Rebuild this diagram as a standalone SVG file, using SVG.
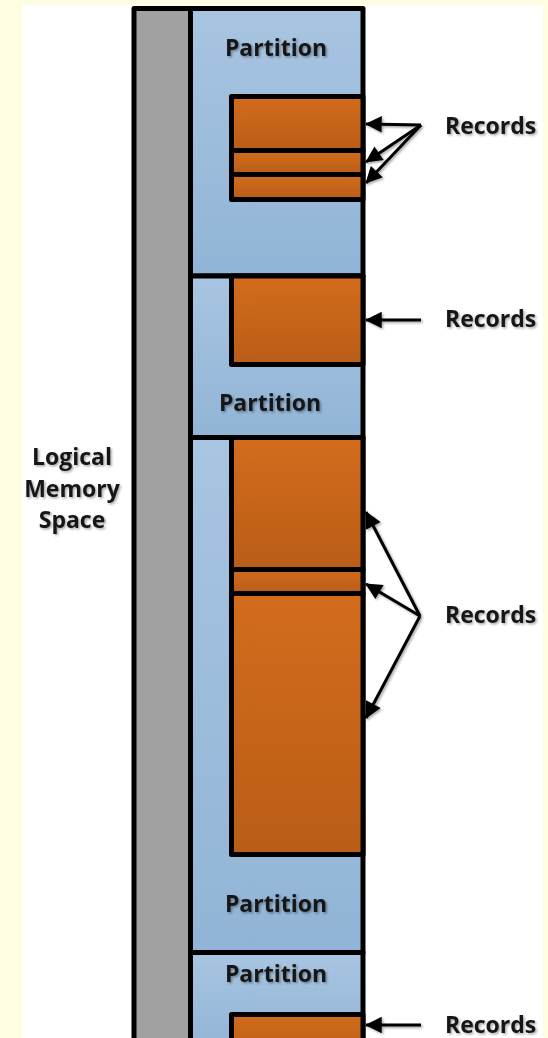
<svg xmlns="http://www.w3.org/2000/svg" width="548" height="1038" viewBox="0 0 548 1038">
  <style>
    .part { stroke: #000; stroke-width: 5; stroke-linejoin: round; }
    .rec { fill: url(#orange); stroke: #000; stroke-width: 5; stroke-linejoin: round; }
    .lbl { font-family: "Open Sans", "Liberation Sans", sans-serif; font-weight: bold; font-size: 23px; fill: #161616; filter: url(#soft); }
    .conn { stroke: #000; stroke-width: 3; fill: none; marker-end: url(#head); }
  </style>
  <defs>
    <linearGradient id="blue" x1="0" y1="0" x2="0" y2="1">
      <stop offset="0" stop-color="#a8c5e1"/>
      <stop offset="1" stop-color="#91b4d6"/>
    </linearGradient>
    <linearGradient id="orange" x1="0" y1="0" x2="0" y2="1">
      <stop offset="0" stop-color="#d36c1c"/>
      <stop offset="1" stop-color="#b95d17"/>
    </linearGradient>
    <filter id="soft" x="-20%" y="-40%" width="140%" height="180%">
      <feDropShadow dx="1.5" dy="1.5" stdDeviation="1.2" flood-color="#000" flood-opacity="0.35"/>
    </filter>
    <marker id="head" viewBox="0 0 10 10" refX="9.5" refY="5" markerWidth="6.5" markerHeight="5.5" orient="auto" markerUnits="strokeWidth">
      <path d="M0,0 L10,5 L0,10 Z" fill="#000"/>
    </marker>
  </defs>

  <!-- page -->
  <rect x="0" y="0" width="548" height="1038" fill="#fffde1"/>
  <rect x="22" y="5" width="521" height="1040" fill="#fff"/>

  <!-- address column -->
  <g id="memory-space">
    <rect x="134" y="8.5" width="56.5" height="1040" fill="#a1a1a1" stroke="#000" stroke-width="5" stroke-linejoin="round"/>
    <text class="lbl" x="72" y="465" text-anchor="middle">Logical</text>
    <text class="lbl" x="72" y="497" text-anchor="middle">Memory</text>
    <text class="lbl" x="72" y="528" text-anchor="middle">Space</text>
  </g>

  <!-- partitions -->
  <g id="partition-1">
    <rect class="part" x="190.5" y="8.5" width="172.5" height="267.5" fill="url(#blue)"/>
    <g id="records-1">
      <rect class="rec" x="231.5" y="96.5" width="131.5" height="54"/>
      <rect class="rec" x="231.5" y="150.5" width="131.5" height="24"/>
      <rect class="rec" x="231.5" y="174.5" width="131.5" height="25"/>
    </g>
    <text class="lbl" x="276" y="56" text-anchor="middle">Partition</text>
  </g>

  <g id="partition-2">
    <rect class="part" x="190.5" y="276" width="172.5" height="161.5" fill="url(#blue)"/>
    <g id="records-2">
      <rect class="rec" x="231.5" y="276" width="131.5" height="88.5"/>
    </g>
    <text class="lbl" x="270" y="411" text-anchor="middle">Partition</text>
  </g>

  <g id="partition-3">
    <rect class="part" x="190.5" y="437.5" width="172.5" height="515" fill="url(#blue)"/>
    <g id="records-3">
      <rect class="rec" x="231.5" y="437.5" width="131.5" height="132"/>
      <rect class="rec" x="231.5" y="569.5" width="131.5" height="24"/>
      <rect class="rec" x="231.5" y="593.5" width="131.5" height="261"/>
    </g>
    <text class="lbl" x="276" y="912" text-anchor="middle">Partition</text>
  </g>

  <g id="partition-4">
    <rect class="part" x="190.5" y="952.5" width="172.5" height="100" fill="url(#blue)"/>
    <g id="records-4">
      <rect class="rec" x="231.5" y="1014.5" width="131.5" height="40"/>
    </g>
    <text class="lbl" x="276" y="982" text-anchor="middle">Partition</text>
  </g>

  <!-- record labels -->
  <g id="label-records-1"><text class="lbl" x="445" y="134">Records</text></g>
  <g id="label-records-2"><text class="lbl" x="445" y="327">Records</text></g>
  <g id="label-records-3"><text class="lbl" x="445" y="623">Records</text></g>
  <g id="label-records-4"><text class="lbl" x="445" y="1033">Records</text></g>

  <!-- connectors -->
  <g id="connectors" filter="url(#soft)">
    <line class="conn" x1="421" y1="125" x2="366" y2="124"/>
    <line class="conn" x1="421" y1="125" x2="366" y2="162"/>
    <line class="conn" x1="421" y1="125" x2="366" y2="183"/>
    <line class="conn" x1="421" y1="320" x2="366" y2="320"/>
    <line class="conn" x1="420" y1="616" x2="366" y2="512"/>
    <line class="conn" x1="420" y1="616" x2="366" y2="584"/>
    <line class="conn" x1="420" y1="616" x2="366" y2="718"/>
    <line class="conn" x1="421" y1="1025" x2="366" y2="1025"/>
  </g>
</svg>
